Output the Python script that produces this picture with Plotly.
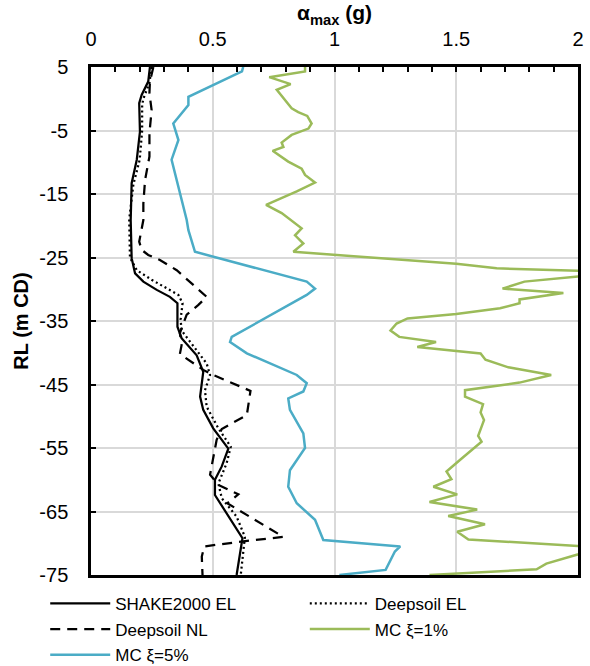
import plotly.graph_objects as go

# Peak acceleration profiles (g) against reduced level (m CD)
shake_el_a = [0.242, 0.235, 0.208, 0.198, 0.201, 0.188, 0.167, 0.163, 0.167, 0.181, 0.215, 0.27,
              0.324, 0.355, 0.355, 0.372, 0.434, 0.461, 0.448, 0.461, 0.502, 0.564, 0.537, 0.509,
              0.509, 0.55, 0.622, 0.598]
shake_el_rl = [5, 2.7, 0.6, -0.7, -5.2, -9.6, -13.3, -19.1, -25.1, -27.5, -28.8, -30.1,
               -31.2, -32.2, -35.9, -37.7, -40.4, -43, -46.9, -49, -51.9, -55.1, -57.9, -60,
               -62.4, -64.8, -69.2, -75]

deepsoil_el_a = [0.249, 0.24, 0.215, 0.21, 0.21, 0.2, 0.174, 0.157, 0.16, 0.188, 0.249, 0.359,
                 0.376, 0.368, 0.372, 0.475, 0.489, 0.468, 0.475, 0.523, 0.574, 0.557, 0.523,
                 0.537, 0.598, 0.632, 0.615]
deepsoil_el_rl = [5, 2.5, 0, -1, -5, -9.6, -13.5, -19, -25, -27, -28.5, -30.9,
                  -32.2, -34.8, -36.5, -41.7, -43.5, -45.9, -48.5, -51.9, -54.8, -57.4, -60.6,
                  -62.9, -65.8, -69, -75]

deepsoil_nl_a = [0.256, 0.242, 0.24, 0.249, 0.24, 0.24, 0.222, 0.215, 0.215, 0.198, 0.208, 0.235,
                 0.283, 0.352, 0.475, 0.44, 0.393, 0.365, 0.372, 0.365, 0.461, 0.502, 0.655, 0.64,
                 0.537, 0.516, 0.489, 0.523, 0.605, 0.56, 0.79, 0.625, 0.465, 0.455, 0.458]
deepsoil_nl_rl = [5, 2.7, 0.9, -1.8, -5.4, -9.1, -12.8, -16.5, -19.1, -22.5, -23.8, -24.6,
                  -25.4, -27, -31.2, -32.5, -34, -36.9, -38.8, -40.2, -42.7, -43.5, -46, -49.8,
                  -52, -53.7, -59.2, -60.8, -62.3, -63.7, -69, -69.7, -70.5, -72.1, -75]

mc1_a = [0.879, 0.879, 0.732, 0.82, 0.763, 0.824, 0.851, 0.888, 0.906, 0.893, 0.824, 0.783, 0.79,
         0.746, 0.81, 0.865, 0.879, 0.92, 0.845, 0.776, 0.719, 0.783, 0.865, 0.838, 0.872, 0.831,
         1.5, 1.666, 2.1, 2.1, 1.78, 1.69, 1.94, 1.76, 1.76, 1.68, 1.5, 1.3, 1.255, 1.23, 1.266,
         1.417, 1.34, 1.6, 1.62, 1.714, 1.89, 1.76, 1.536, 1.536, 1.61, 1.6, 1.614, 1.59, 1.604,
         1.515, 1.46, 1.48, 1.406, 1.504, 1.39, 1.586, 1.467, 1.618, 1.504, 1.55, 2.1, 1.87,
         1.83, 1.39]
mc1_rl = [5, 4.3, 3.4, 2.3, 1.4, -1.5, -2.1, -2.7, -3.9, -4.7, -5.7, -6.9, -7.6,
          -8.2, -9.9, -11, -12, -13.2, -14.6, -15.7, -16.7, -18, -20.4, -21.5, -22.8, -24.1,
          -26, -26.7, -27.2, -27.6, -28.8, -29.9, -30.6, -31.6, -32.2, -33, -33.9, -34.6, -35.4,
          -36.5, -37.5, -38.3, -39.1, -40.1, -41.1, -42.3, -43.5, -44.7, -45.9, -46.9, -48.1,
          -49.4, -50.6, -53.1, -54, -56.9, -58.7, -59.9, -61.1, -62.3, -63.5, -64.7, -65.7, -67,
          -68.2, -69.4, -70.65, -73.2, -74.1, -75]

mc5_a = [0.625, 0.62, 0.40, 0.40, 0.338, 0.359, 0.331, 0.393, 0.40, 0.427, 0.886, 0.92, 0.886,
         0.578, 0.571, 0.64, 0.845, 0.886, 0.872, 0.81, 0.817, 0.872, 0.879, 0.817, 0.81, 0.845,
         0.92, 0.954, 1.27, 1.248, 1.21, 1.02]
mc5_rl = [5, 4.3, 0.3, -1, -3.9, -6.5, -9.6, -19.1, -20.7, -24.1, -28.8, -29.9, -30.9,
          -37.5, -38.3, -40.1, -43.5, -44.8, -46.1, -47.2, -49, -52.7, -55, -58.5, -61.1, -63.7,
          -66.3, -69.5, -70.5, -71.3, -74.2, -75]

x_ticks = [0, 0.5, 1, 1.5, 2]
x_tick_text = ["0", "0.5", "1", "1.5", "2"]
y_ticks = [5, -5, -15, -25, -35, -45, -55, -65, -75]
y_tick_text = ["5", "-5", "-15", "-25", "-35", "-45", "-55", "-65", "-75"]

FONT = "Arial, Liberation Sans, sans-serif"
GREEN = "#9BBB59"
BLUE = "#4BACC6"

fig = go.Figure()
# left legend column: SHAKE2000 EL, Deepsoil NL, MC 5%; right column: Deepsoil EL, MC 1%
fig.add_trace(go.Scatter(x=shake_el_a, y=shake_el_rl, mode="lines", name="SHAKE2000 EL",
                         legend="legend", legendgroup="a", legendrank=1,
                         line=dict(color="black", width=2.25)))
fig.add_trace(go.Scatter(x=deepsoil_el_a, y=deepsoil_el_rl, mode="lines", name="Deepsoil EL",
                         legend="legend2", legendgroup="b", legendrank=1,
                         line=dict(color="black", width=2.25, dash="2px,3px")))
fig.add_trace(go.Scatter(x=deepsoil_nl_a, y=deepsoil_nl_rl, mode="lines", name="Deepsoil NL",
                         legend="legend", legendgroup="c", legendrank=2,
                         line=dict(color="black", width=2.25, dash="10px,7px")))
fig.add_trace(go.Scatter(x=mc1_a, y=mc1_rl, mode="lines", name="MC ξ=1%",
                         legend="legend2", legendgroup="d", legendrank=2,
                         line=dict(color=GREEN, width=2.5)))
fig.add_trace(go.Scatter(x=mc5_a, y=mc5_rl, mode="lines", name="MC ξ=5%",
                         legend="legend", legendgroup="e", legendrank=3,
                         line=dict(color=BLUE, width=2.5)))

legend_style = dict(
    orientation="v", y=-0.0215, yanchor="top", xanchor="left",
    itemwidth=60, tracegroupgap=0.5, traceorder="grouped",
    font=dict(family=FONT, size=17, color="black"),
    bgcolor="rgba(0,0,0,0)",
)

fig.update_layout(
    width=590, height=666,
    margin=dict(l=91, r=12, t=67, b=91, autoexpand=False),
    paper_bgcolor="white", plot_bgcolor="white",
    font=dict(family=FONT, color="black", size=20),
    showlegend=True,
    legend=dict(x=-0.094, **legend_style),
    legend2=dict(x=0.439, **legend_style),
)

fig.update_xaxes(
    side="top", range=[0, 2], tickvals=x_ticks, ticktext=x_tick_text,
    showgrid=True, gridcolor="#D9D9D9", gridwidth=1.5,
    showline=True, linecolor="black", linewidth=2.5, mirror=True,
    ticks="inside", ticklen=5, tickwidth=2, tickcolor="black",
    minor=dict(dtick=0.1, tick0=0, ticks="inside", ticklen=5, tickwidth=2,
               tickcolor="black", showgrid=False),
    ticklabelstandoff=10, zeroline=False,
    tickfont=dict(size=20),
    title=dict(text="<b>α<sub>max</sub> (g)</b>", font=dict(size=21), standoff=2),
)
fig.update_yaxes(
    range=[-75, 5], tickvals=y_ticks, ticktext=y_tick_text,
    showgrid=True, gridcolor="#D9D9D9", gridwidth=1.5,
    showline=True, linecolor="black", linewidth=2.5, mirror=True,
    ticks="inside", ticklen=5, tickwidth=2, tickcolor="black",
    ticklabelstandoff=16, zeroline=False,
    tickfont=dict(size=20),
    title=dict(text="<b>RL (m CD)</b>", font=dict(size=20), standoff=6),
)

fig.write_html("out.html")
